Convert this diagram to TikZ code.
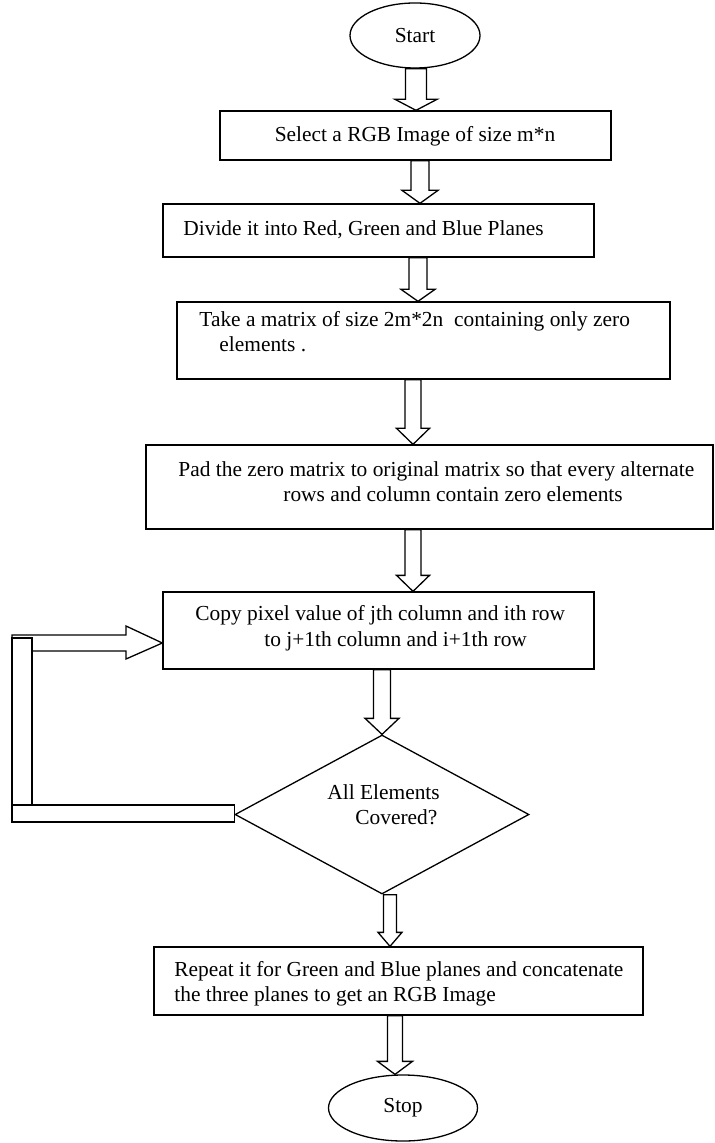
\documentclass[tikz,border=0pt]{standalone}
\usepackage{fontspec}
\setmainfont{Liberation Serif}
\usetikzlibrary{shapes.geometric,calc}
\newcommand{\blk}[6]{%
  \draw[arr] let \p1=(#1 |- #2), \p2=(#1 |- #3) in
   (\x1-#4,\y1) -- (\x1-#4,\y2+#6) -- (\x1-#5,\y2+#6) -- (\x2,\y2)
   -- (\x1+#5,\y2+#6) -- (\x1+#4,\y2+#6) -- (\x1+#4,\y1) -- cycle;}
\begin{document}
\begin{tikzpicture}[x=0.5pt,y=-0.5pt,
  every node/.style={font=\fontsize{10.7}{12.75}\selectfont},
  boxnode/.style={draw,line width=0.65pt,rectangle,inner sep=0pt},
  txt/.style={anchor=base west,inner sep=0pt},
  ctxt/.style={anchor=base,inner sep=0pt},
  arr/.style={draw,line width=0.65pt,line join=miter},
  term/.style={draw,ellipse,inner sep=0pt,line width=0.65pt}]
\useasboundingbox (0,0) rectangle (715,1143);

% terminals
\node[term,minimum width=65pt,minimum height=32.5pt] (start) at (415,35.5) {Start};
\node[term,minimum width=74.5pt,minimum height=33pt] (stop) at (403,1108) {Stop};

% boxes
\node[boxnode,minimum width=195.5pt,minimum height=24.5pt] (box1) at (415.5,135.5) {};
\node[boxnode,minimum width=215.5pt,minimum height=26.5pt] (box2) at (378.5,230.5) {};
\node[boxnode,minimum width=246.5pt,minimum height=38.5pt] (box3) at (423.5,340.5) {};
\node[boxnode,minimum width=283.5pt,minimum height=42pt] (box4) at (429.5,487) {};
\node[boxnode,minimum width=215.5pt,minimum height=38.5pt] (box5) at (378.5,630.5) {};
\node[draw,diamond,minimum width=147pt,minimum height=79.5pt,inner sep=0pt,line width=0.65pt] (dec) at (382,814.5) {};
\node[boxnode,minimum width=244.5pt,minimum height=34pt] (box6) at (398.5,981) {};

% texts
\node[ctxt] (t1) at (415,141.5) {Select a RGB Image of size m*n};
\node[txt] (t2) at (183,236) {Divide it into Red, Green and Blue Planes};
\node[txt] (t3a) at (199,327) {Take a matrix of size 2m*2n\ \ containing only zero};
\node[txt] (t3b) at (219,352) {elements .};
\node[txt] (t4a) at (178,476) {Pad the zero matrix to original matrix so that every alternate};
\node[txt] (t4b) at (283,501) {rows and column contain zero elements};
\node[txt] (t5a) at (195,620) {Copy pixel value of jth column and ith row};
\node[txt] (t5b) at (264,646) {to j+1th column and i+1th row};
\node[txt] (tda) at (327,799) {All Elements};
\node[txt] (tdb) at (355,824) {Covered?};
\node[txt] (t6a) at (174,976) {\makebox[224.5pt][s]{Repeat it for Green and Blue planes and concatenate}};
\node[txt] (t6b) at (174,1001) {the three planes to get an RGB Image};

% block arrows
\coordinate (c1) at (416,0);
\coordinate (c2) at (420,0);
\coordinate (c3) at (418,0);
\coordinate (c4) at (413,0);
\coordinate (c6) at (382,0);
\coordinate (c7) at (390,0);
\coordinate (c8) at (395,0);
\blk{c1}{start.south}{box1.north}{5.25pt}{10.5pt}{5.5pt}
\blk{c2}{box1.south}{box2.north}{4.5pt}{9pt}{6.5pt}
\blk{c3}{box2.south}{box3.north}{4.5pt}{8.5pt}{6pt}
\blk{c4}{box3.south}{box4.north}{4pt}{8.25pt}{8pt}
\blk{c4}{box4.south}{box5.north}{4pt}{8.25pt}{8pt}
\blk{c6}{box5.south}{dec.north}{4.25pt}{8.5pt}{8pt}
\blk{c7}{dec.south}{box6.north}{3.25pt}{6pt}{7pt}
\blk{c8}{box6.south}{stop.north}{3.75pt}{8.75pt}{6.5pt}

% loop back
\coordinate (lt) at (12,635);
\coordinate (lb) at (12,822);
\draw[arr] (lt) -- (126,635) -- (126,626) -- ([yshift=-6.25pt]box5.west)
  -- (126,659) -- (126,651) -- (12,651) -- cycle;
\draw[arr,fill=white] (12,638) rectangle (32,805);
\draw[arr,fill=white] (12,805) rectangle (lb -| dec.west);
\end{tikzpicture}
\end{document}
